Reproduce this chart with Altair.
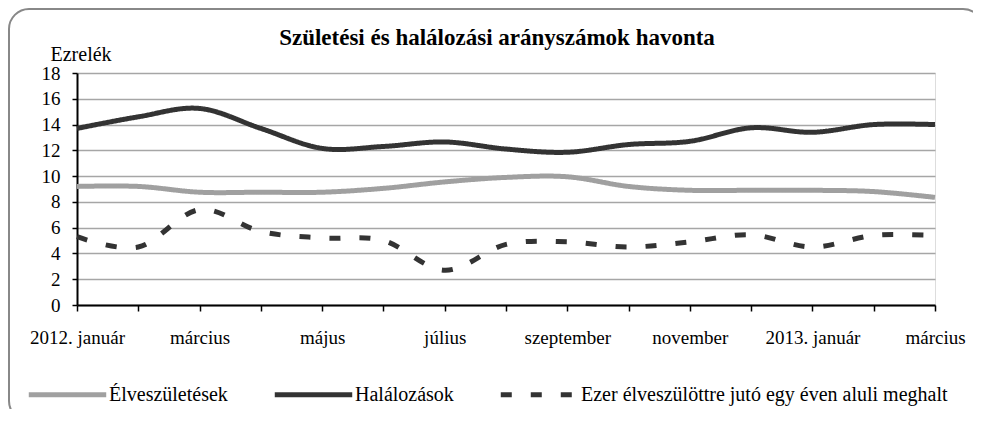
import altair as alt
import pandas as pd

# ---- data ----
honapok = ["2012. január", "február", "március", "április", "május", "június",
           "július", "augusztus", "szeptember", "október", "november", "december",
           "2013. január", "február", "március"]
tengely_cimkek = ["2012. január", "", "március", "", "május", "", "július", "",
                  "szeptember", "", "november", "", "2013. január", "", "március"]

sorozatok = ["Élveszületések", "Halálozások",
             "Ezer élveszülöttre jutó egy éven aluli meghalt"]

elveszuletesek = [9.2, 9.2, 8.75, 8.75, 8.75, 9.05, 9.55, 9.9, 9.95, 9.2, 8.9, 8.9, 8.9, 8.8, 8.35]
halalozasok = [13.7, 14.6, 15.25, 13.7, 12.15, 12.3, 12.65, 12.1, 11.85, 12.45, 12.7, 13.75, 13.4, 14.0, 14.0]
csecsemo = [5.3, 4.5, 7.4, 5.7, 5.2, 5.0, 2.7, 4.7, 4.9, 4.5, 4.9, 5.45, 4.5, 5.4, 5.4]

rows = []
for i, h in enumerate(honapok):
    rows.append({"idx": i, "honap": h, "sorozat": sorozatok[0], "ertek": elveszuletesek[i]})
    rows.append({"idx": i, "honap": h, "sorozat": sorozatok[1], "ertek": halalozasok[i]})
    rows.append({"idx": i, "honap": h, "sorozat": sorozatok[2], "ertek": csecsemo[i]})
df = pd.DataFrame(rows)

FONT = "Liberation Serif"
W, H = 858, 232
PAD_L, PAD_T, PAD_R, PAD_B = 69, 65, 38, 104

label_expr = "[" + ",".join("'" + t + "'" for t in tengely_cimkek) + "][datum.value]"

lines = alt.Chart(df).mark_line(interpolate="cardinal", strokeWidth=5).encode(
    x=alt.X("idx:Q",
            scale=alt.Scale(domain=[0, len(honapok) - 1], nice=False, zero=False),
            axis=alt.Axis(values=list(range(len(honapok))), labelExpr=label_expr,
                          title=None, grid=False, domainColor="black", domainWidth=2,
                          tickColor="black", tickWidth=1.5, tickSize=6,
                          labelFont=FONT, labelFontSize=19, labelColor="black",
                          labelPadding=17, labelFlush=False, labelOverlap=False)),
    y=alt.Y("ertek:Q",
            scale=alt.Scale(domain=[0, 18], nice=False),
            axis=alt.Axis(values=list(range(0, 19, 2)), title="Ezrelék",
                          titleAngle=0, titleX=-27, titleY=-13, titleAlign="left",
                          titleBaseline="alphabetic", titleFont=FONT, titleFontSize=20,
                          titleFontWeight="normal", titleColor="black",
                          grid=True, gridColor="#a6a6a6", gridWidth=1.5,
                          domainColor="black", domainWidth=2,
                          tickColor="black", tickWidth=1.5, tickSize=5,
                          labelFont=FONT, labelFontSize=19, labelColor="black",
                          labelPadding=12)),
    color=alt.Color("sorozat:N",
                    scale=alt.Scale(domain=sorozatok, range=["#a0a0a0", "#333333", "#333333"]),
                    legend=alt.Legend(title=None, orient="none", legendX=-51, legendY=280,
                                      direction="horizontal", symbolType="stroke",
                                      symbolSize=6000, symbolStrokeWidth=5,
                                      labelFont=FONT, labelFontSize=20, labelColor="black",
                                      labelOffset=0, labelLimit=0, columnPadding=36)),
    strokeDash=alt.StrokeDash("sorozat:N",
                              scale=alt.Scale(domain=sorozatok, range=[[1, 0], [1, 0], [11, 19]]),
                              legend=alt.Legend(title=None)),
)

frame = alt.Chart(pd.DataFrame({"k": [0]})).mark_rect(
    fillOpacity=0, stroke="#888888", strokeWidth=2, cornerRadius=20
).encode(
    x=alt.value(-PAD_L + 1), x2=alt.value(W + PAD_R + 10),
    y=alt.value(-PAD_T + 1), y2=alt.value(H + PAD_B + 12),
)

chart = alt.layer(frame, lines).properties(
    width=W, height=H,
    autosize=alt.AutoSizeParams(type="none"),
    padding={"left": PAD_L, "top": PAD_T, "right": PAD_R, "bottom": PAD_B},
    title=alt.Title("Születési és halálozási arányszámok havonta", font=FONT,
                    fontSize=23, fontWeight="bold", color="black", anchor="middle",
                    frame="group", dx=-9, dy=3, offset=-39),
).configure_view(stroke="black", strokeWidth=1.5).configure(background="white")

chart.save("out.html", embed_options={"renderer": "svg", "actions": False})
